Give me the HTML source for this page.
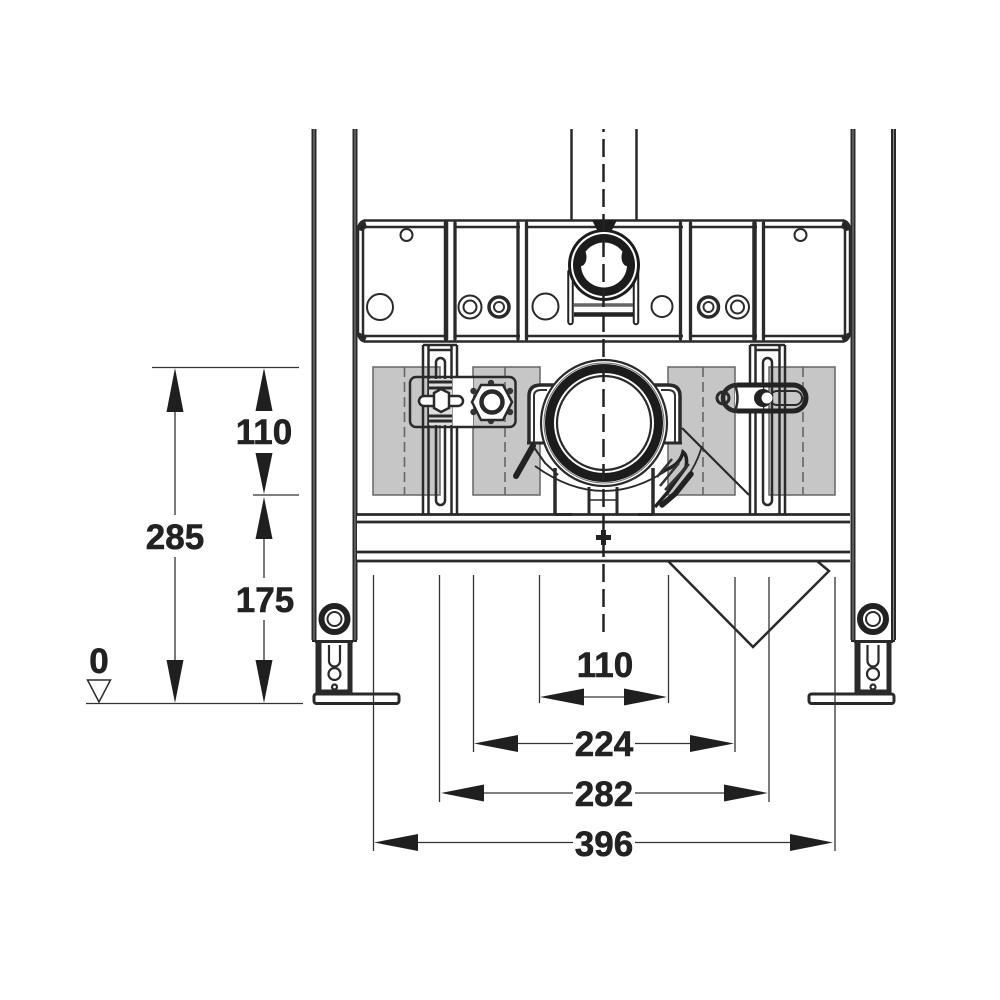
<!DOCTYPE html>
<html><head><meta charset="utf-8"><style>
html,body{margin:0;padding:0;background:#fff}svg{display:block}
text{font-family:"Liberation Sans",sans-serif;font-weight:700;font-size:35px;fill:#222;stroke:#222;stroke-width:.6px;text-anchor:middle}
</style></head><body>
<svg width="1000" height="1000" viewBox="0 0 1000 1000" xmlns="http://www.w3.org/2000/svg" fill="none" stroke="#2a2a2a" stroke-width="2">
<rect width="1000" height="1000" fill="#fff" stroke="none"/>
<!-- grey panels -->
<g fill="#c6c6c6" stroke="#666" stroke-width="1.500">
<rect x="373" y="367" width="67" height="128"/><rect x="473" y="367" width="67" height="128"/>
<rect x="668" y="367" width="67" height="128"/><rect x="769" y="367" width="66" height="128"/>
</g>
<g stroke="#666" stroke-width="1.600" stroke-dasharray="10 5">
<path d="M404.500 367V495M505 367V495M703 367V495M803 367V495"/>
</g>
<!-- rails -->
<path d="M314 129V640M355 129V640M853 129V640M893.500 129V640" stroke="#2a2a2a" stroke-width="5"/>
<path d="M314 129V640M355 129V640M853 129V640M893.500 129V640" stroke="#888" stroke-width="1"/>
<path d="M571.500 129V220M636.500 129V220" stroke-width="2.500"/>
<!-- upper panel -->
<g stroke-width="2.500">
<path d="M365 220.500H843Q848 221 850 228V334Q848 341 843 341.500H365Q360 341 358 334V228Q360 221 365 220.500Z"/>
<path d="M358 227H850M358 336H850M363 228V335M845 228V335"/>
</g>
<path d="M358 229L364 221L366 227L362 230ZM358 333L362 335L366 336L364 341ZM850 229L844 221L842 227L846 230ZM850 333L846 335L842 336L844 341Z" fill="#222"/>
<g fill="#fff" stroke="none">
<rect x="448" y="222" width="6" height="118"/><rect x="520" y="222" width="6" height="118"/>
<rect x="683" y="222" width="6" height="118"/><rect x="757" y="222" width="6" height="118"/>
</g>
<g stroke-linecap="round">
<path d="M446 223V339M754.500 223V339" stroke-width="4.500"/>
<path d="M455 223V339M518 223V339M526.500 223V339M680.500 223V339M690.500 223V339M763.500 223V339" stroke-width="3.300"/>
</g>
<g stroke-width="2">
<circle cx="406.500" cy="235" r="6"/><circle cx="800.500" cy="235" r="6"/>
<circle cx="380" cy="307" r="13"/><circle cx="545.500" cy="306.500" r="13"/><circle cx="662" cy="306.500" r="10.500"/>
<circle cx="470" cy="307" r="11.500"/><circle cx="470" cy="307" r="6.500"/>
<circle cx="737.500" cy="307" r="11.500"/><circle cx="737.500" cy="307" r="6.500"/>
</g>
<g stroke-width="3.500"><circle cx="499" cy="307" r="10"/><circle cx="708.500" cy="307" r="10"/></g>
<circle cx="499" cy="307" r="5" stroke="#333" stroke-width="2"/><circle cx="708.500" cy="307" r="5" stroke="#333" stroke-width="2"/>
<!-- top pipe connection -->
<path d="M592 220H617L611 232H598Z" fill="#1c1c1c" stroke="none"/>
<path d="M570.500 272V322M636 272V322" stroke="#222" stroke-width="6.500" stroke-linecap="round"/>
<path d="M570.500 272V322M636 272V322" stroke="#fff" stroke-width="2.500" stroke-linecap="round"/>
<path d="M574 305H633" stroke="#666" stroke-width="3.500"/><path d="M574 314.500H633" stroke="#222" stroke-width="4.500"/>
<circle cx="604" cy="265" r="36" fill="#1c1c1c" stroke="none"/>
<circle cx="604" cy="265" r="33" fill="#fff" stroke="none"/>
<circle cx="604" cy="265" r="31" fill="#1c1c1c" stroke="none"/>
<ellipse cx="604" cy="265" rx="23" ry="22.500" fill="#fff" stroke="none"/>
<ellipse cx="581" cy="257" rx="5.500" ry="9" fill="#1c1c1c" stroke="none"/><ellipse cx="627" cy="257" rx="5.500" ry="9" fill="#1c1c1c" stroke="none"/>
<!-- brackets -->
<g stroke-width="2.500">
<path d="M423 345V514M428.500 345V514M451.500 345V514M457 345V514M423 345H457M428 350H452"/>
<path d="M750 345V514M755.500 345V514M779.500 345V514M785 345V514M750 345H785M755 350H780"/>
<rect x="436" y="358" width="9" height="147" rx="4.500"/>
<rect x="763" y="358" width="9" height="147" rx="4.500"/>
</g>
<!-- left plate -->
<rect x="452.500" y="378" width="20.500" height="48" fill="#fff" stroke="none"/>
<rect x="410" y="377" width="105.500" height="50" rx="6" stroke-width="2.500"/>
<rect x="429" y="379" width="23" height="46" fill="#ddd" stroke="none"/>
<path d="M429 382H452M429 388H452M429 416H452M429 421H452" stroke-width="3"/>
<rect x="419" y="396" width="44" height="10" rx="5" fill="#fff" stroke-width="2.500"/>
<path d="M434 393L441 389L449 393V408L441 412L434 408Z" fill="#fff" stroke-width="2.500"/>
<g fill="#333" stroke="none">
<circle cx="473.500" cy="391" r="3.200"/><circle cx="473.500" cy="412" r="3.200"/>
<circle cx="510" cy="391" r="3.200"/><circle cx="510" cy="412" r="3.200"/>
<circle cx="491" cy="383" r="3.200"/><circle cx="491" cy="421" r="3.200"/></g>
<path d="M481 385H503L512 402L503 420H481L472 402Z" fill="#fff" stroke-width="2.500"/>
<circle cx="492" cy="402" r="10.500" fill="#fff" stroke-width="4.500"/>
<!-- right plate -->
<rect x="735" y="385" width="28" height="26" fill="#fff" stroke="none"/>
<path d="M737 385H793A13 13 0 0 1 793 411H737" stroke="#222" stroke-width="5"/>
<path d="M737 385A14 13 0 1 0 737 411" stroke-width="4.500"/>
<path d="M735 385Q740 398 735 411" stroke-width="2.500"/>
<circle cx="723" cy="398" r="6" stroke-width="3"/>
<rect x="770" y="391" width="32" height="14" rx="7" stroke-width="2"/>
<circle cx="763" cy="398" r="9" fill="#222" stroke="none"/><circle cx="767" cy="398" r="5.500" fill="#fff" stroke="none"/>
<!-- main pipe assembly -->
<path d="M682 428L749 495" stroke-width="2.200"/>
<path d="M702 446A100 100 0 0 1 676 490" stroke-width="1.800"/>
<path d="M529 443V396Q529 385 541 385H668Q680 385 680 396V443" fill="#fff" stroke-width="3.500"/>
<path d="M534 443V396Q534 390 541 390H547M675 443V396Q675 390 668 390H661" stroke="#333" stroke-width="2"/>
<path d="M527 443H545M664 443H682" stroke-width="3"/>
<path d="M533 446L516 476" stroke="#222" stroke-width="6" stroke-linecap="round"/>
<path d="M533 446L545 463L558 475" stroke-width="2"/>
<path d="M535 466Q604 516 673 466" stroke-width="1.800"/>
<path d="M555 468V514M653 468V514" stroke-width="3.500"/>
<path d="M589 487V514M617 487V514" stroke-width="3"/>
<path d="M589 500H617" stroke-width="1.500"/>
<path d="M555 514.500H572M638 514.500H653" stroke-width="3"/>
<path d="M662 471Q680 466 683 452Q688 456 686 467L667 493L655 507" stroke="#222" stroke-width="3.500"/>
<path d="M657 477L672 459M660 486L679 463M665 490L689 464" stroke="#333" stroke-width="2.500"/>
<path d="M691 474L675 494L662 505" stroke="#222" stroke-width="5.500" stroke-linecap="round"/>
<circle cx="604" cy="423" r="63" fill="#fff" stroke-width="2.200"/>
<circle cx="604" cy="423" r="54.500" fill="#fff" stroke="#1c1c1c" stroke-width="9"/>
<circle cx="604" cy="423" r="47" fill="#fff" stroke-width="2.200"/>
<circle cx="604" cy="423" r="60" stroke="#666" stroke-width="1"/>
<!-- lower bars -->
<rect x="357" y="516" width="493" height="44" fill="#fff" stroke="none"/>
<path d="M357 514.500H850M357 522H850M357 552H850M357 561H850" stroke-width="2.800"/>
<path d="M596 537.500H611M603.500 530V545" stroke="#222" stroke-width="5"/>
<!-- hopper -->
<path d="M668 561L753 647L829 571L817 561" stroke-width="2.500"/>
<!-- center dash -->
<path d="M603.500 129V632" stroke="#222" stroke-width="2.500" stroke-dasharray="18 7" stroke-dashoffset="15"/>
<!-- feet -->
<g stroke-width="3">
<path d="M315 642H353" stroke-width="2"/>
<path d="M317 642V693M320 642V693M349 642V693M351 642V693" stroke-width="3"/>
<rect x="314" y="694" width="85" height="9.500" rx="2.500"/>
<path d="M854 642H893" stroke-width="2"/>
<path d="M856 642V693M859 642V693M888 642V693M890 642V693" stroke-width="3"/>
<rect x="809" y="694" width="85" height="9.500" rx="2.500"/>
<path d="M318 691H351M856 691H890" stroke-width="3"/>
</g>
<g stroke-width="2.200">
<path d="M329 645V661A5.500 5.500 0 0 0 340 661V645M867.500 645V661A5.500 5.500 0 0 0 878.500 661V645"/>
<circle cx="334.500" cy="674" r="6"/><circle cx="873" cy="674" r="6"/>
<circle cx="334.500" cy="687" r="2.500"/><circle cx="873" cy="687" r="2.500"/>
</g>
<circle cx="334.500" cy="619" r="13" stroke="#222" stroke-width="6"/><circle cx="334.500" cy="619" r="7" stroke-width="2"/>
<circle cx="873" cy="619" r="13" stroke="#222" stroke-width="6"/><circle cx="873" cy="619" r="7" stroke-width="2"/>
<path d="M312 641H357M851 641H895" stroke-width="2"/>
<!-- dimension lines -->
<g stroke="#333" stroke-width="1.300">
<path d="M373.500 575V851M439.500 575V802M473.500 575V752M539.500 575V703M668.500 575V703M735 577V752M769 577V802M835 577V851"/>
<path d="M152 367.500H299M253 495H299M86 703.500H303"/>
<path d="M584 697H624M518 743.500H573M635 743.500H690M484 793H573M635 793H724M418 842.500H573M635 842.500H790"/>
<path d="M175 412V515M175 557V660M264 539V578M264 620V660"/>
</g>
<g fill="#1f1f1f" stroke="none">
<path d="M540 697L584 688.500V705.500ZM667 697L624 688.500V705.500Z"/>
<path d="M474 743.500L518 735V752ZM734 743.500L690 735V752Z"/>
<path d="M441 793L484 784.500V801.500ZM768 793L724 784.500V801.500Z"/>
<path d="M374 842.500L418 834V851ZM833 842.500L790 834V851Z"/>
<path d="M175 368L166.500 412H183.500ZM175 703L166.500 660H183.500Z"/>
<path d="M264 368L255.500 411H272.500ZM264 494L255.500 453H272.500ZM264 497L255.500 539H272.500ZM264 703L255.500 660H272.500Z"/>
</g>
<path d="M87.500 680H110.500L99 702Z" stroke-width="1.500"/>
<text x="175" y="549">285</text>
<text x="264" y="444">110</text>
<text x="265" y="612">175</text>
<text x="99" y="673">0</text>
<text x="605" y="677">110</text>
<text x="604" y="756">224</text>
<text x="604" y="806">282</text>
<text x="604" y="856">396</text>
</svg>
</body></html>
